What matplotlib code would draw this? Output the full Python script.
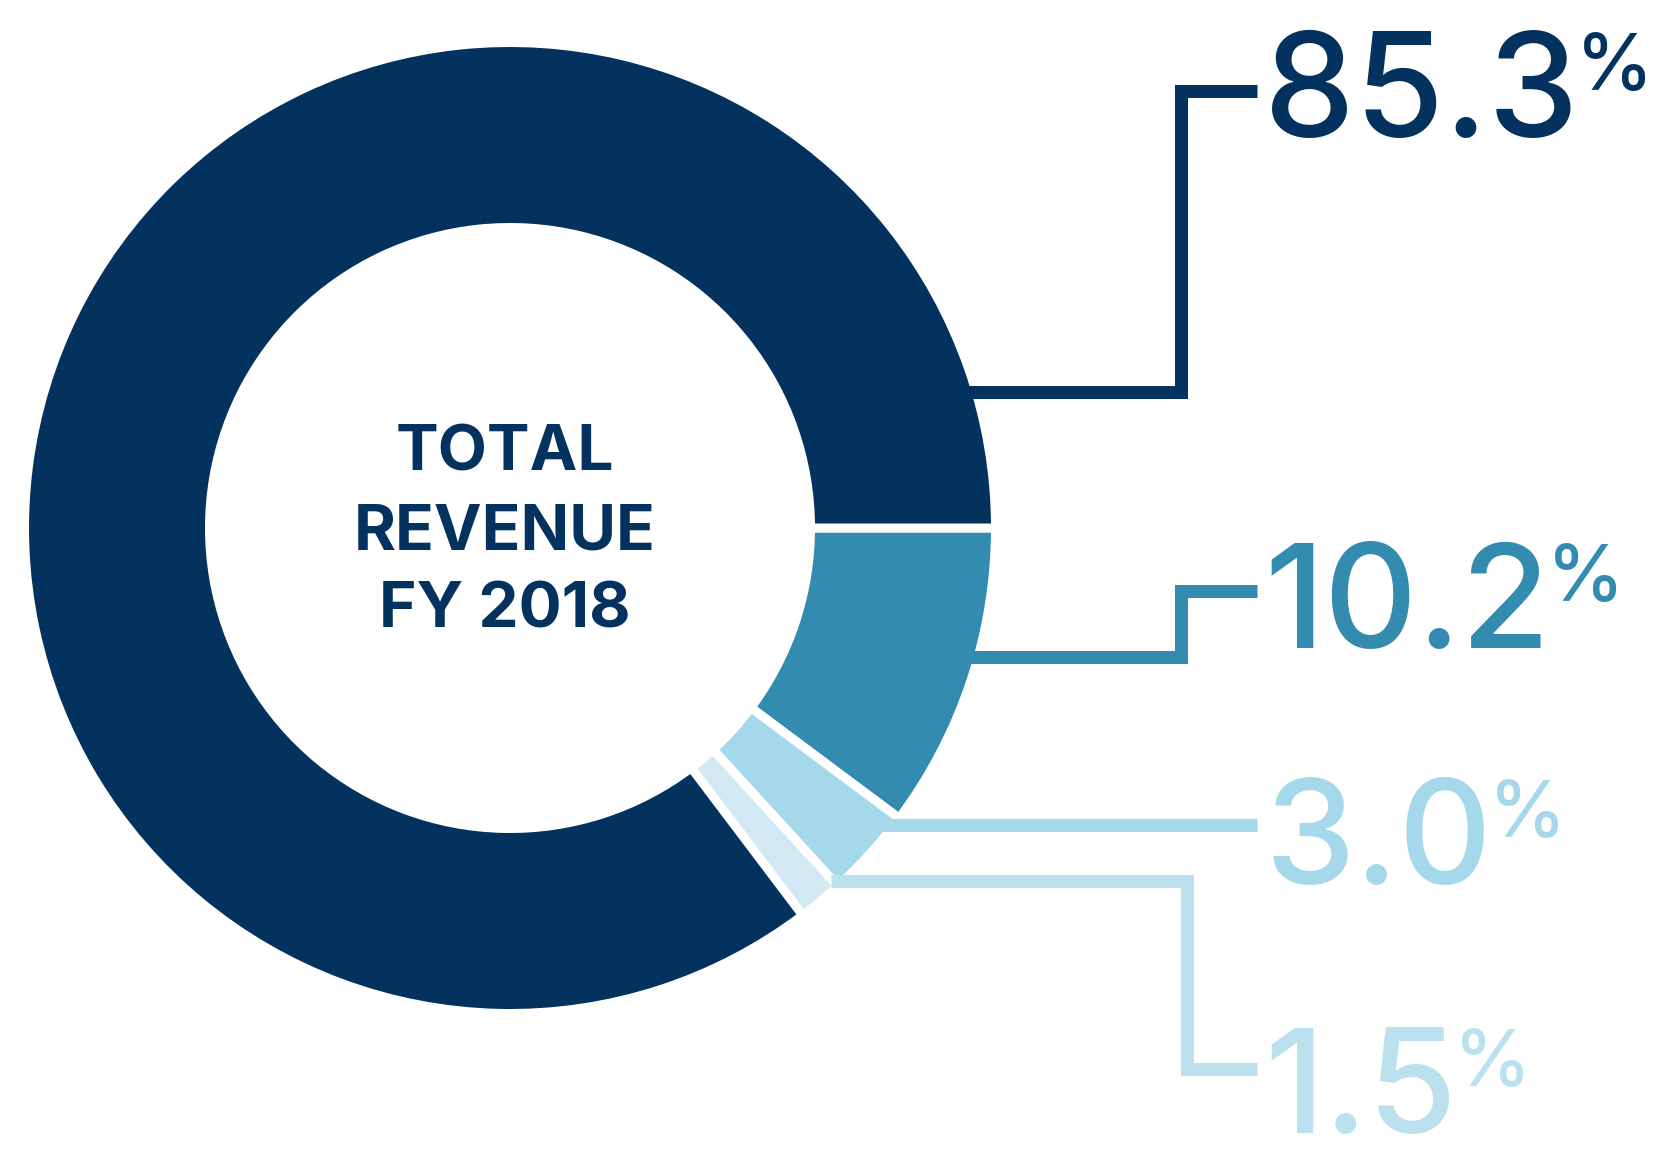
import numpy as np
import matplotlib
matplotlib.use("Agg")
import matplotlib.pyplot as plt

# Werte (im Uhrzeigersinn ab 3 Uhr)
values = [10.2, 3.0, 1.5, 85.3]
labels = ["10.2", "3.0", "1.5", "85.3"]
center_lines = ["TOTAL", "REVENUE", "FY 2018"]

wedge_cols = ["#348BB0", "#A5D8EB", "#D2E9F3", "#03325E"]
text_cols = ["#348BB0", "#A5D8EB", "#BBE0EE", "#03325E"]

W, H = 1676, 1168
fig = plt.figure(figsize=(W / 100, H / 100), dpi=100)
ax = fig.add_axes([0, 0, 1, 1])

cx, cy = 510, 528   # Mitte in Pixeln (von oben)
R, ring = 481, 176
gap = 9             # weisser Spalt zwischen den Stuecken
FONT = "Inter"


def up(y):  # Pixel von oben -> Achsenkoordinate
    return H - y


ax.pie(values, colors=wedge_cols, startangle=0, counterclock=False,
       center=(cx, up(cy)), radius=R + gap / 2,
       wedgeprops=dict(width=ring + gap, edgecolor="white",
                       linewidth=gap * 0.72))

# Fuehrungslinien: Start-y am Ring, x der Ecke, End-y, Ende bei x_end
routes = [(657, 1181, 591), (825, None, 825), (881, 1187, 1069), (392, 1181, 91)]
x_end = 1257
lw = 13 * 0.72
for (y0, xt, y1), c in zip(routes, text_cols):
    x0 = cx + np.sqrt(R ** 2 - (y0 - cy) ** 2) - 6
    if xt is None:
        xs, ys = [x0, x_end], [y0, y0]
    else:
        xs, ys = [x0, xt, xt, x_end], [y0, y0, y1, y1]
    ax.plot(xs, [up(v) for v in ys], color=c, lw=lw,
            solid_joinstyle="miter", solid_capstyle="butt", zorder=3)

# grosse Prozentzahlen
baselines = [648, 884, 1133, 137]
for lab, c, b in zip(labels, text_cols, baselines):
    t = ax.text(1264, up(b), lab, color=c, fontsize=104, family=FONT,
                fontweight="medium", ha="left", va="baseline")
    ax.annotate("%", xy=(1, 1), xycoords=t, xytext=(-2, -1),
                textcoords="offset points", color=c, fontsize=56,
                family=FONT, fontweight="medium", ha="left", va="top")

# Text in der Mitte
for s, y in zip(center_lines, [454, 533, 611]):
    ax.text(505, up(y), s, color="#03325E", fontsize=46, family=FONT,
            fontweight="bold", ha="center", va="center")

ax.set_xlim(0, W)
ax.set_ylim(0, H)
ax.set_aspect("equal")
ax.axis("off")
fig.savefig("out.png", dpi=100, facecolor="white")
